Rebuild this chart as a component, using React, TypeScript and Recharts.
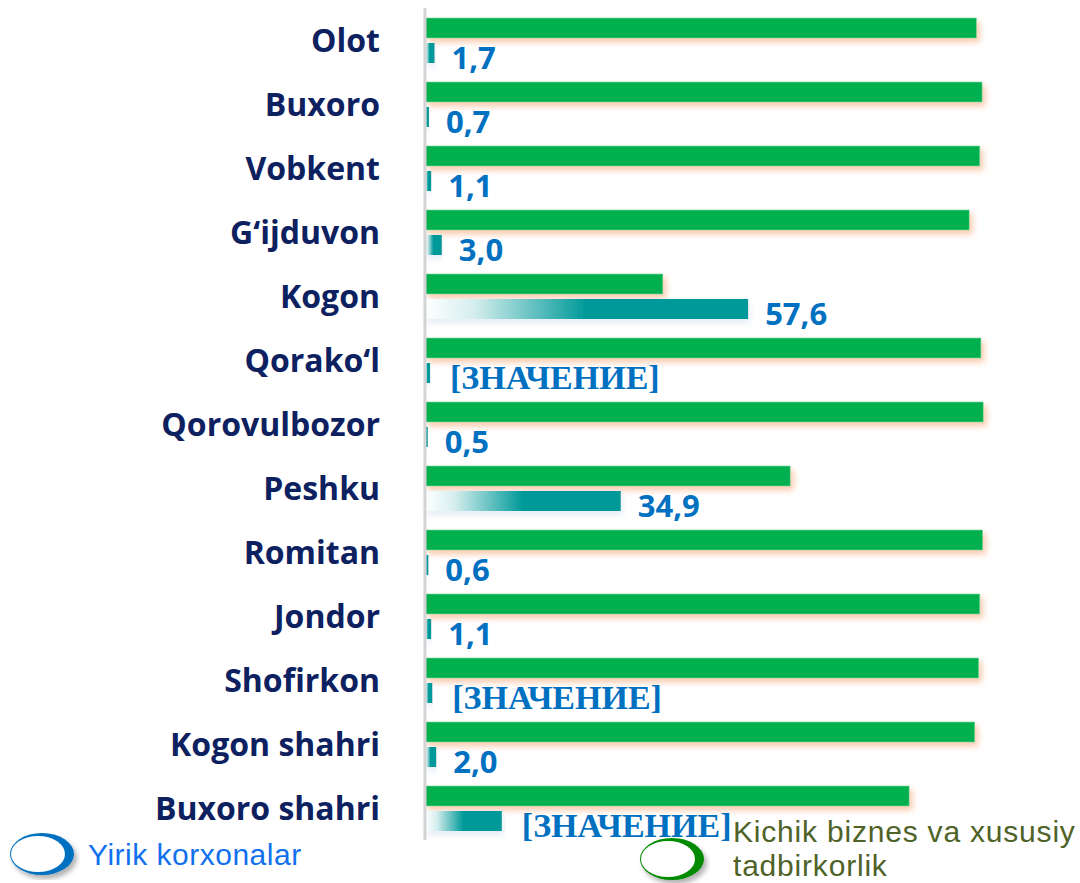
import { BarChart, Bar, XAxis, YAxis, LabelList } from 'recharts'

const districts = [
  'Olot',
  'Buxoro',
  'Vobkent',
  'G‘ijduvon',
  'Kogon',
  'Qorako‘l',
  'Qorovulbozor',
  'Peshku',
  'Romitan',
  'Jondor',
  'Shofirkon',
  'Kogon shahri',
  'Buxoro shahri',
]

// Kichik biznes va xususiy tadbirkorlik (%)
const kichikValues = [98.3, 99.3, 98.9, 97.0, 42.4, 99.1, 99.5, 65.1, 99.4, 98.9, 98.7, 98.0, 86.3]

// Yirik korxonalar (%)
const yirikValues = [1.7, 0.7, 1.1, 3.0, 57.6, 0.9, 0.5, 34.9, 0.6, 1.1, 1.3, 2.0, 13.7]

// labels shown on the teal bars (some are the unfilled PowerPoint placeholder)
const yirikLabels = ['1,7', '0,7', '1,1', '3,0', '57,6', '[ЗНАЧЕНИЕ]', '0,5', '34,9', '0,6', '1,1', '[ЗНАЧЕНИЕ]', '2,0', '[ЗНАЧЕНИЕ]']

const data = districts.map((name, i) => ({
  name,
  kichik: kichikValues[i],
  yirik: yirikValues[i],
  label: yirikLabels[i],
}))

const NAVY = '#0d2160'
const GREEN = '#00b050'
const TEAL = '#009999'
const VALUE_BLUE = '#0070c0'

function CategoryTick({ x, y, payload }: any) {
  return (
    <text
      x={x}
      y={y}
      dy={12}
      textAnchor="end"
      fill={NAVY}
      fontFamily="'Open Sans', sans-serif"
      fontWeight={700}
      fontSize={32}
    >
      {payload.value}
    </text>
  )
}

function ValueLabel({ x, y, width, height, value }: any) {
  const placeholder = String(value).startsWith('[')
  return (
    <text
      x={x + width + (placeholder ? 20 : 17)}
      y={y + height / 2}
      dy={16}
      fill={VALUE_BLUE}
      fontFamily={placeholder ? "'Liberation Serif', 'Times New Roman', serif" : "'Open Sans', sans-serif"}
      fontWeight={700}
      fontSize={placeholder ? 34 : 31}
    >
      {value}
    </text>
  )
}

function GreenBar({ x, y, width, height }: any) {
  return <rect x={x} y={y} width={width} height={height} fill={GREEN} stroke="#7fd8a0" strokeWidth={0.6} filter="url(#orangeGlow)" />
}

function TealBar({ x, y, width, height }: any) {
  return <rect x={x} y={y} width={width} height={height} fill="url(#tealFade)" filter="url(#blueGlow)" />
}

function LegendRing({ color }: { color: string }) {
  return (
    <svg width={72} height={50} style={{ display: 'block' }}>
      <defs>
        <filter id={`ringShadow${color.slice(1)}`} x="-20%" y="-20%" width="150%" height="160%">
          <feDropShadow dx={3} dy={4} stdDeviation={2.5} floodColor="#000" floodOpacity={0.3} />
        </filter>
      </defs>
      <ellipse cx={34} cy={24} rx={32} ry={21} fill={color} filter={`url(#ringShadow${color.slice(1)})`} />
      <ellipse cx={30} cy={24} rx={27} ry={18} fill="#ffffff" />
    </svg>
  )
}

export default function App() {
  return (
    <div style={{ position: 'absolute', left: 0, top: 0, width: 1080, height: 883, background: '#fff', overflow: 'hidden' }}>
      <BarChart
        width={1080}
        height={883}
        data={data}
        layout="vertical"
        margin={{ top: 8, right: 94, bottom: 43, left: 0 }}
        barSize={20}
        barGap={5}
      >
        <defs>
          <linearGradient id="tealFade" x1="0" y1="0" x2="1" y2="0">
            <stop offset="0%" stopColor="#ffffff" />
            <stop offset="15%" stopColor="#d6eeee" />
            <stop offset="50%" stopColor={TEAL} />
            <stop offset="100%" stopColor={TEAL} />
          </linearGradient>
          <filter id="orangeGlow" x="-5%" y="-50%" width="110%" height="250%">
            <feDropShadow dx={3} dy={4} stdDeviation={3} floodColor="#f4a774" floodOpacity={0.6} />
          </filter>
          <filter id="blueGlow" x="-5%" y="-50%" width="110%" height="250%">
            <feDropShadow dx={2} dy={4} stdDeviation={3} floodColor="#b8cde8" floodOpacity={0.35} />
          </filter>
        </defs>
        <XAxis type="number" domain={[0, 100]} hide />
        <YAxis
          type="category"
          dataKey="name"
          width={425}
          tickLine={false}
          tickSize={0}
          tickMargin={45}
          axisLine={{ stroke: '#d4d4d4', strokeWidth: 3 }}
          tick={<CategoryTick />}
          interval={0}
        />
        <Bar dataKey="kichik" name="Kichik biznes va xususiy tadbirkorlik" shape={<GreenBar />} isAnimationActive={false} />
        <Bar dataKey="yirik" name="Yirik korxonalar" shape={<TealBar />} isAnimationActive={false}>
          <LabelList dataKey="label" content={<ValueLabel />} />
        </Bar>
      </BarChart>

      <div style={{ position: 'absolute', left: 8, top: 830, display: 'flex', alignItems: 'center' }}>
        <LegendRing color="#0070c0" />
        <span
          style={{
            marginLeft: 8,
            fontFamily: "'Liberation Sans', Arial, sans-serif",
            fontSize: 30,
            letterSpacing: 0.5,
            color: '#1170ee',
          }}
        >
          Yirik korxonalar
        </span>
      </div>
      <div style={{ position: 'absolute', left: 638, top: 835 }}>
        <LegendRing color="#008a00" />
      </div>
      <div
        style={{
          position: 'absolute',
          left: 733,
          top: 815,
          fontFamily: "'Liberation Sans', Arial, sans-serif",
          fontSize: 30,
          letterSpacing: 0.8,
          lineHeight: '34px',
          color: '#4f6228',
          whiteSpace: 'nowrap',
        }}
      >
        Kichik biznes va xususiy
        <br />
        tadbirkorlik
      </div>
    </div>
  )
}
